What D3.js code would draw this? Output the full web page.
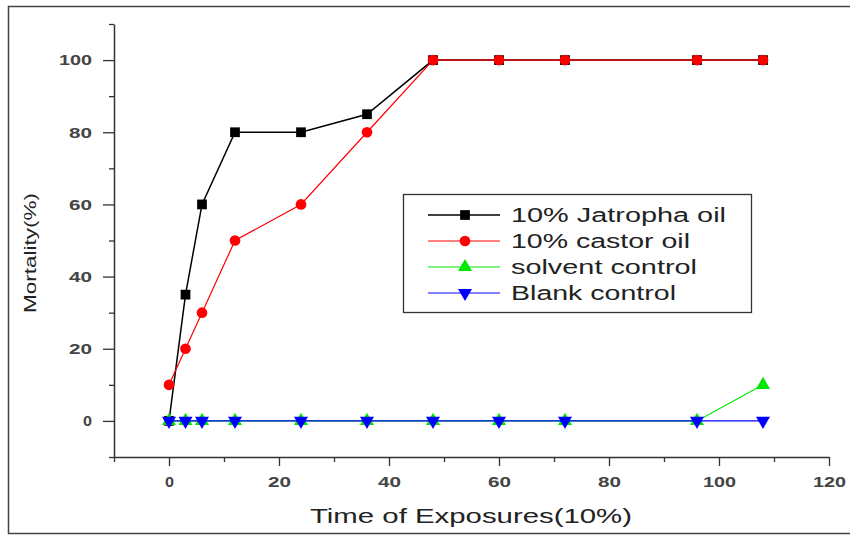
<!DOCTYPE html>
<html>
<head>
<meta charset="utf-8">
<script src="https://cdn.jsdelivr.net/npm/d3@7"></script>
<style>
  body { margin: 0; background: #fff; }
  text { font-family: "Liberation Sans", Arial, sans-serif; }
</style>
</head>
<body>
<svg width="850" height="535"></svg>
<script>
// time points (x) and mortality (%) for each series
var hours = [0, 3, 6, 12, 24, 36, 48, 60, 72, 96, 108];
var jatropha = [0, 35, 60, 80, 80, 85, 100, 100, 100, 100, 100];
var castor = [10, 20, 30, 50, 60, 80, 100, 100, 100, 100, 100];
var solvent = [0, 0, 0, 0, 0, 0, 0, 0, 0, 0, 10];
var blank = [0, 0, 0, 0, 0, 0, 0, 0, 0, 0, 0];
var seriesNames = ["10% Jatropha oil", "10% castor oil", "solvent control", "Blank control"];
var xTicks = [0, 20, 40, 60, 80, 100, 120];
var yTicks = [0, 20, 40, 60, 80, 100];

// the original picture is stretched sideways, so text gets a fixed width
var digitWidth = [0, 9, 23, 33];
var legendWidth = [215, 179, 186, 165];

var svg = d3.select("svg");

// outer frame
svg.append("rect")
  .attr("x", 8.5).attr("y", 6.5)
  .attr("width", 850).attr("height", 527)
  .attr("fill", "none")
  .attr("stroke", "#444")
  .attr("stroke-width", 1.5);

var xScale = d3.scaleLinear().domain([-10, 120]).range([114, 829]);
var yScale = d3.scaleLinear().domain([-10, 110]).range([457, 24]);

// axes: major ticks labelled, minor ticks every 10
var xAxis = d3.axisBottom(xScale).tickValues(d3.range(-10, 121, 10))
  .tickSize(0).tickFormat("");
var yAxis = d3.axisLeft(yScale).tickValues(d3.range(-10, 111, 10))
  .tickSize(0).tickFormat("");

var gx = svg.append("g").attr("transform", "translate(0,457)").call(xAxis);
var gy = svg.append("g").attr("transform", "translate(114,0)").call(yAxis);

gx.select(".domain").attr("stroke", "#333").attr("stroke-width", 1.5);
gy.select(".domain").attr("stroke", "#333").attr("stroke-width", 1.5);

gx.selectAll(".tick line")
  .attr("stroke", "#333").attr("stroke-width", 1.3)
  .attr("y2", function(d) { return xTicks.indexOf(d) >= 0 ? 9 : 5; });
gy.selectAll(".tick line")
  .attr("stroke", "#333").attr("stroke-width", 1.3)
  .attr("x2", function(d) { return yTicks.indexOf(d) >= 0 ? -11 : -5; });

gx.selectAll(".tick").filter(function(d) { return xTicks.indexOf(d) >= 0; })
  .append("text")
  .attr("y", 30)
  .attr("fill", "#444")
  .attr("font-size", 14)
  .attr("font-weight", "bold")
  .attr("text-anchor", "middle")
  .attr("textLength", function(d) { return digitWidth[String(d).length]; })
  .attr("lengthAdjust", "spacingAndGlyphs")
  .text(function(d) { return d; });

gy.selectAll(".tick").filter(function(d) { return yTicks.indexOf(d) >= 0; })
  .append("text")
  .attr("x", -22)
  .attr("dy", "0.35em")
  .attr("fill", "#444")
  .attr("font-size", 14)
  .attr("font-weight", "bold")
  .attr("text-anchor", "end")
  .attr("textLength", function(d) { return digitWidth[String(d).length]; })
  .attr("lengthAdjust", "spacingAndGlyphs")
  .text(function(d) { return d; });

// axis titles
svg.append("text")
  .attr("x", 310).attr("y", 523)
  .attr("font-size", 20)
  .attr("textLength", 322)
  .attr("lengthAdjust", "spacingAndGlyphs")
  .attr("fill", "#222")
  .text("Time of Exposures(10%)");

svg.append("text")
  .attr("transform", "translate(36,313) rotate(-90)")
  .attr("font-size", 16)
  .attr("textLength", 120)
  .attr("lengthAdjust", "spacingAndGlyphs")
  .attr("fill", "#222")
  .text("Mortality(%)");

var series = [
  { name: seriesNames[0], values: jatropha, color: "#000", shape: d3.symbolSquare, size: 95, rot: 0, width: 1.5 },
  { name: seriesNames[1], values: castor, color: "#ff0000", shape: d3.symbolCircle, size: 90, rot: 0, width: 1.2 },
  { name: seriesNames[2], values: solvent, color: "#00e800", shape: d3.symbolTriangle, size: 85, rot: 0, width: 1.2 },
  { name: seriesNames[3], values: blank, color: "#0000ff", shape: d3.symbolTriangle, size: 85, rot: 180, width: 1.2 }
];

var line = d3.line()
  .x(function(d) { return xScale(d[0]); })
  .y(function(d) { return yScale(d[1]); });

series.forEach(function(s) {
  var pts = hours.map(function(h, i) { return [h, s.values[i]]; });
  var g = svg.append("g");
  g.append("path")
    .attr("d", line(pts))
    .attr("fill", "none")
    .attr("stroke", s.color)
    .attr("stroke-width", s.width);
  g.selectAll("path.mark")
    .data(pts)
    .enter()
    .append("path")
    .attr("class", "mark")
    .attr("d", d3.symbol().type(s.shape).size(s.size))
    .attr("transform", function(d) {
      return "translate(" + xScale(d[0]) + "," + yScale(d[1]) + ") rotate(" + s.rot + ")";
    })
    .attr("fill", s.color);
});

// legend
var legend = svg.append("g");
legend.append("rect")
  .attr("x", 403.5).attr("y", 194.5)
  .attr("width", 348).attr("height", 118)
  .attr("fill", "#fff")
  .attr("stroke", "#333")
  .attr("stroke-width", 1.3);

var rowY = [215, 241, 267, 293];
series.forEach(function(s, i) {
  var row = legend.append("g").attr("transform", "translate(0," + rowY[i] + ")");
  row.append("line")
    .attr("x1", 428).attr("x2", 500)
    .attr("stroke", s.color).attr("stroke-width", s.width);
  row.append("path")
    .attr("d", d3.symbol().type(s.shape).size(s.size))
    .attr("transform", "translate(465,0) rotate(" + s.rot + ")")
    .attr("fill", s.color);
  row.append("text")
    .attr("x", 511).attr("dy", "0.35em")
    .attr("font-size", 20)
    .attr("textLength", legendWidth[i])
    .attr("lengthAdjust", "spacingAndGlyphs")
    .attr("fill", "#222")
    .text(s.name);
});
</script>
</body>
</html>
